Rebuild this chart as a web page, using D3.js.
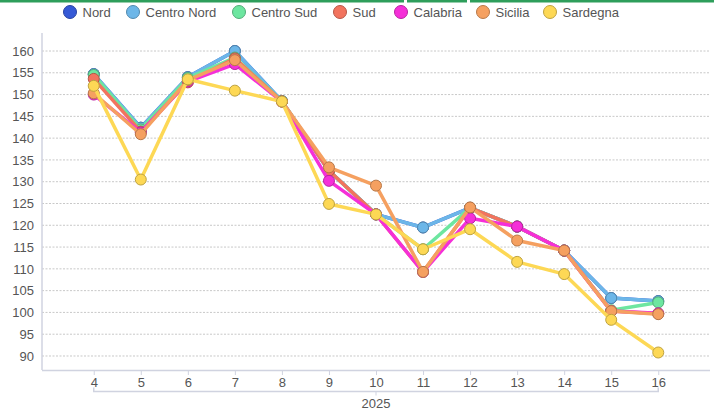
<!DOCTYPE html>
<html><head><meta charset="utf-8">
<script src="https://cdn.jsdelivr.net/npm/d3@7"></script>
<style>body{margin:0;background:#fff;font-family:"Liberation Sans",Arial,sans-serif;}</style>
</head><body><svg id="c" width="722" height="412"></svg>
<script>
const categories = ["4","5","6","7","8","9","10","11","12","13","14","15","16"];
const groupLabel = "2025";
const seriesNames = ["Nord","Centro Nord","Centro Sud","Sud","Calabria","Sicilia","Sardegna"];
const seriesColors = ["#3559d6","#6cb6e8","#6de6a0","#f2735e","#f52fd8","#f5a060","#fdd855"];
const nord       = [154.7,142.4,154.0,160.0,148.5,132.5,122.5,119.5,124.0,119.7,114.2,103.3,102.6];
const centroNord = [154.7,142.4,154.0,160.0,148.5,132.5,122.5,119.5,124.0,119.7,114.2,103.3,102.6];
const centroSud  = [154.5,142.0,153.8,158.5,148.5,132.5,122.5,114.5,124.0,119.7,114.2,100.5,102.3];
const sud        = [153.6,141.5,152.8,158.3,148.4,132.5,122.5,109.3,124.0,119.7,114.2,100.3,99.7];
const calabria   = [150.0,141.3,153.0,157.0,148.4,130.2,122.5,109.3,121.6,119.7,114.2,100.3,99.8];
const sicilia    = [150.3,140.9,153.3,157.9,148.4,133.3,129.1,109.3,124.1,116.5,114.2,100.3,99.6];
const sardegna   = [152.0,130.5,153.5,150.9,148.4,124.9,122.5,114.5,119.1,111.6,108.8,98.3,90.8];
const yTicks = [90,95,100,105,110,115,120,125,130,135,140,145,150,155,160];
const seriesValues = [nord,centroNord,centroSud,sud,calabria,sicilia,sardegna];

const svg = d3.select("#c");
const L=42, R=710, T=33, B=370;
const x = d3.scalePoint().domain(categories).range([L,R]).padding(1.1);
const y = d3.scaleLinear().domain([160 + (51-T)/4.357, 160 - (B-51)/4.357]).range([T,B]);

// top green bar
svg.append("rect").attr("x",0).attr("y",0).attr("width",714).attr("height",2.5).attr("fill","#2e9e5b");
svg.append("rect").attr("x",404).attr("y",0).attr("width",3).attr("height",3).attr("fill","#fff");
svg.append("rect").attr("x",467).attr("y",0).attr("width",3).attr("height",3).attr("fill","#fff");

// grid
const grid = svg.append("g");
yTicks.forEach(t=>{
  grid.append("line").attr("x1",L).attr("x2",R).attr("y1",y(t)).attr("y2",y(t))
    .attr("stroke","#c8c8c8").attr("stroke-width",1).attr("stroke-dasharray","2,1.5");
});

// y axis
const ya = svg.append("g").attr("transform",`translate(${L},0)`)
  .call(d3.axisLeft(y).tickValues(yTicks).tickSize(0).tickPadding(8));
ya.select(".domain").remove();
ya.selectAll("text").attr("font-size",13).attr("fill","#555").attr("font-family","Liberation Sans, Arial, sans-serif");
svg.append("line").attr("x1",L).attr("x2",L).attr("y1",T).attr("y2",B).attr("stroke","#d0d3e0").attr("stroke-width",1.5);

// x axis
const xa = svg.append("g").attr("transform",`translate(0,${B})`)
  .call(d3.axisBottom(x).tickSize(5).tickPadding(3));
xa.select(".domain").attr("d",`M${L},0.5H${R}`).attr("stroke","#d0d3e0").attr("stroke-width",1.5);
xa.selectAll(".tick line").attr("stroke","#d0d3e0");
xa.selectAll("text").attr("font-size",13).attr("fill","#555").attr("font-family","Liberation Sans, Arial, sans-serif");

// group axis
const gx0 = x(categories[0]), gx1 = x(categories[categories.length-1]);
const gy = 391.5;
svg.append("path").attr("d",`M${gx0},${gy-4}V${gy}H${gx1}V${gy-4}`).attr("fill","none").attr("stroke","#d0d3e0").attr("stroke-width",1.5);
svg.append("line").attr("x1",(gx0+gx1)/2).attr("x2",(gx0+gx1)/2).attr("y1",gy).attr("y2",gy+4).attr("stroke","#d0d3e0");
svg.append("text").attr("x",(gx0+gx1)/2).attr("y",408).attr("text-anchor","middle")
  .attr("font-size",13).attr("fill","#555").text(groupLabel);

// series
const line = d3.line().x((d,i)=>x(categories[i])).y(d=>y(d));
seriesValues.forEach((vals,si)=>{
  const col = seriesColors[si];
  const g = svg.append("g");
  g.append("path").datum(vals).attr("d",line).attr("fill","none").attr("stroke",col)
    .attr("stroke-width",3.5).attr("stroke-linejoin","round");
  g.selectAll("circle").data(vals).join("circle")
    .attr("cx",(d,i)=>x(categories[i])).attr("cy",d=>y(d)).attr("r",5.5)
    .attr("fill",col).attr("stroke",d3.color(col).darker(0.8)).attr("stroke-width",1);
});

// legend
const legX = [70,133,239,340,401,483,550];
const lg = svg.append("g");
seriesNames.forEach((n,i)=>{
  const col = seriesColors[i];
  lg.append("circle").attr("cx",legX[i]).attr("cy",12).attr("r",6.5).attr("fill",col)
    .attr("stroke",d3.color(col).darker(0.8)).attr("stroke-width",1);
  lg.append("text").attr("x",legX[i]+12.5).attr("y",16.5).attr("font-size",13).attr("fill","#555").text(n);
});
</script></body></html>
